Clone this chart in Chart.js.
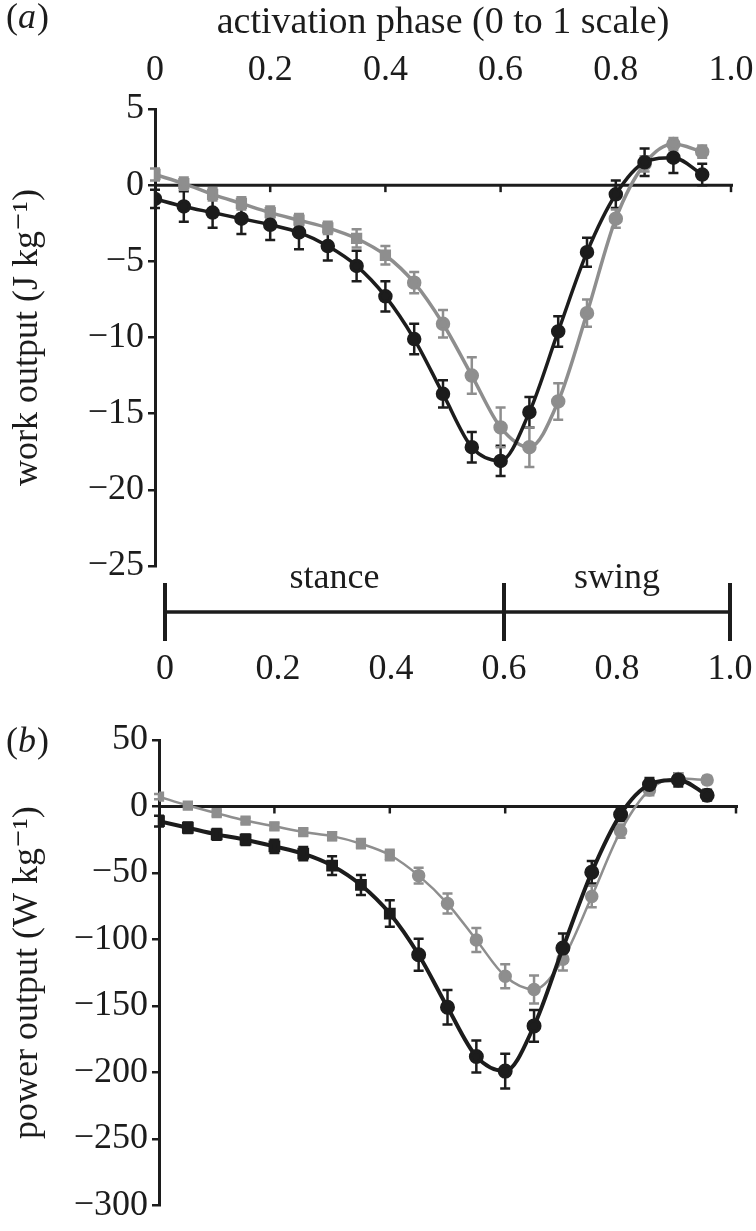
<!DOCTYPE html>
<html><head><meta charset="utf-8">
<script src="https://cdn.jsdelivr.net/npm/chart.js@4.4.1/dist/chart.umd.min.js"></script>
<style>
html,body{margin:0;padding:0;background:#fff;}
#wa{position:absolute;left:0;top:0;width:756px;height:700px;}
#wb{position:absolute;left:0;top:700px;width:756px;height:531px;}
</style>
</head><body>
<div id="wa"><canvas id="ca"></canvas></div>
<div id="wb"><canvas id="cb"></canvas></div>
<script>
// ---------- data ----------
const phase = [0,0.05,0.1,0.15,0.2,0.25,0.3,0.35,0.4,0.45,0.5,0.55,0.6,0.65,0.7,0.75,0.8,0.85,0.9,0.95];

const workBlack    = [-0.9,-1.4,-1.8,-2.2,-2.6,-3.1,-4.0,-5.3,-7.3,-10.1,-13.7,-17.2,-18.1,-14.9,-9.6,-4.4,-0.6,1.5,1.8,0.7];
const workBlackErr = [0.6,1.0,1.0,1.0,1.0,1.1,0.95,1.0,1.0,1.0,0.9,1.0,1.0,1.0,1.0,0.95,0.9,0.9,1.0,0.7];
const workGrey     = [0.7,0.1,-0.6,-1.2,-1.8,-2.3,-2.8,-3.5,-4.6,-6.4,-9.1,-12.5,-15.9,-17.2,-14.2,-8.4,-2.2,1.4,2.7,2.2];
const workGreyErr  = [0.4,0.4,0.4,0.4,0.4,0.4,0.4,0.6,0.6,0.7,0.9,1.2,1.3,1.3,1.2,0.9,0.6,0.5,0.4,0.4];

const powerBlack    = [-11,-16,-21,-25,-30,-35.5,-44.5,-59,-80.5,-111.5,-151,-188,-199,-165,-106.5,-49.5,-6,16.5,20,8.5];
const powerBlackErr = [4,4,4,4,5,5,7,7.5,10,12,13,12,13,12,11,8.5,5,5,5,4];
const powerGrey     = [7.4,0.7,-5,-10.6,-14.9,-19.2,-22.3,-28,-36.5,-52,-73,-100.4,-127.7,-137.6,-114.8,-67.7,-18.6,12.4,21,19.9];
const powerGreyErr  = [2,2,2,2,2.5,2.5,3,3.5,4,6,7.5,9,9,10.5,8.5,8,5,4,4,3];

const phaseTicks = [0,0.2,0.4,0.6,0.8,1.0];
const workTicks  = [5,0,-5,-10,-15,-20,-25];
const powerTicks = [50,0,-50,-100,-150,-200,-250,-300];
const phaseBounds = [0,0.6,1.0];
const phaseNames  = ['stance','swing'];

const xTitle  = 'activation phase (0 to 1 scale)';
const yTitleA = 'work output (J kg\u207B\u00B9)';
const yTitleB = 'power output (W kg\u207B\u00B9)';

// ---------- styling ----------
const FONT = "'Liberation Serif', 'DejaVu Serif', serif";
const FS = 36;
const INK = '#1c1c1c';
const GREY = '#8e8e8e';
const CLEAR = 'rgba(0,0,0,0)';
const fmtNum = v => v < 0 ? '\u2212' + Math.abs(v) : String(v);
const fmtPhase = v => v === 0 ? '0' : v.toFixed(1);

function pts(xs, ys){ return xs.map((x,i)=>({x:x, y:ys[i]})); }

function series(label, ys, errs, color, width, styles){
  return {
    label: label, data: pts(phase, ys), errors: errs,
    borderColor: color, backgroundColor: color, pointBackgroundColor: color, pointBorderColor: color,
    borderWidth: width, pointRadius: 5.5, pointHoverRadius: 5.5, pointStyle: styles,
    cubicInterpolationMode: 'monotone', fill: false
  };
}
const circ = phase.map(()=> 'circle');
const mixed = phase.map((p,i)=> i < 9 ? 'rect' : 'circle');

// zero line, tick marks on it, error bars
const decor = {
  id: 'decor',
  beforeDatasetsDraw(chart){
    const ctx = chart.ctx, x = chart.scales.x, y = chart.scales.y;
    const y0 = y.getPixelForValue(0);
    ctx.save();
    ctx.strokeStyle = INK; ctx.lineCap = 'butt';
    ctx.lineWidth = 3;
    ctx.beginPath(); ctx.moveTo(x.left, y0); ctx.lineTo(x.right + 2, y0); ctx.stroke();
    ctx.lineWidth = 2.5;
    phaseTicks.forEach(t => {
      if (t === 0) return;
      const px = x.getPixelForValue(t);
      ctx.beginPath(); ctx.moveTo(px, y0); ctx.lineTo(px, y0 + 7); ctx.stroke();
    });
    chart.data.datasets.forEach(ds => {
      ctx.strokeStyle = ds.borderColor; ctx.lineWidth = 2.5;
      ds.data.forEach((p, j) => {
        const e = ds.errors[j];
        const px = x.getPixelForValue(p.x);
        const t = y.getPixelForValue(p.y + e), b = y.getPixelForValue(p.y - e);
        ctx.beginPath();
        ctx.moveTo(px, t); ctx.lineTo(px, b);
        ctx.moveTo(px - 5, t); ctx.lineTo(px + 5, t);
        ctx.moveTo(px - 5, b); ctx.lineTo(px + 5, b);
        ctx.stroke();
      });
    });
    ctx.restore();
  }
};

function panelLabel(letter){
  return {
    id: 'panel' + letter,
    afterDraw(chart){
      const ctx = chart.ctx;
      ctx.save();
      ctx.fillStyle = INK; ctx.textBaseline = 'middle'; ctx.textAlign = 'left';
      let xx = 6; const yy = chart.options.plugins.panelPos.y;
      ctx.font = FS + "px " + FONT; ctx.fillText('(', xx, yy); xx += ctx.measureText('(').width;
      ctx.font = "italic " + FS + "px " + FONT; ctx.fillText(letter, xx, yy); xx += ctx.measureText(letter).width + 1;
      ctx.font = FS + "px " + FONT; ctx.fillText(')', xx, yy);
      ctx.restore();
    }
  };
}

// stance / swing bar drawn on the xb scale
const phaseBar = {
  id: 'phaseBar',
  afterDraw(chart){
    const xb = chart.scales.xb; if (!xb) return;
    const ctx = chart.ctx;
    const barY = xb.top + 46;
    ctx.save();
    ctx.strokeStyle = INK; ctx.lineWidth = 3.5;
    ctx.beginPath(); ctx.moveTo(xb.getPixelForValue(phaseBounds[0]), barY);
    ctx.lineTo(xb.getPixelForValue(phaseBounds[phaseBounds.length-1]), barY); ctx.stroke();
    ctx.lineWidth = 4;
    phaseBounds.forEach(b => {
      const px = xb.getPixelForValue(b);
      ctx.beginPath(); ctx.moveTo(px, barY - 29); ctx.lineTo(px, barY + 29); ctx.stroke();
    });
    ctx.fillStyle = INK; ctx.font = FS + "px " + FONT; ctx.textAlign = 'center'; ctx.textBaseline = 'alphabetic';
    phaseNames.forEach((n, i) => {
      const mid = (phaseBounds[i] + phaseBounds[i+1]) / 2;
      ctx.fillText(n, xb.getPixelForValue(mid), barY - 24);
    });
    ctx.restore();
  }
};

const tickFont = { family: FONT, size: FS };

function yAxis(min, max, ticks, title, width){
  return {
    type: 'linear', position: 'left', min: min, max: max,
    afterBuildTicks: s => { s.ticks = ticks.map(v => ({value: v})); },
    afterFit: s => { s.width = width; },
    grid: { drawOnChartArea: false, drawTicks: true, tickLength: 7, color: INK, lineWidth: 2.5 },
    border: { display: true, color: INK, width: 3 },
    ticks: { font: tickFont, color: INK, padding: 4, callback: fmtNum },
    title: { display: true, text: title, font: tickFont, color: INK, padding: { top: 6, bottom: 0 } }
  };
}

// ---------- panel (a) ----------
new Chart(document.getElementById('ca'), {
  type: 'line',
  data: { datasets: [
    series('black', workBlack, workBlackErr, INK, 3.5, circ),
    series('grey', workGrey, workGreyErr, GREY, 3.5, mixed)
  ]},
  options: {
    responsive: true, maintainAspectRatio: false, animation: false,
    layout: { padding: { left: 0, right: 25, top: 0, bottom: 0 } },
    plugins: { legend: { display: false }, tooltip: { enabled: false }, panelPos: { y: 19 } },
    scales: {
      x: {
        type: 'linear', position: 'top', min: 0, max: 1,
        afterBuildTicks: s => { s.ticks = phaseTicks.map(v => ({value: v})); },
        afterFit: s => { s.height = 109; },
        grid: { display: true, drawOnChartArea: false, drawTicks: true, tickLength: 15, color: CLEAR },
        border: { display: false },
        ticks: { font: tickFont, color: INK, padding: 2, callback: fmtPhase, maxRotation: 0 },
        title: { display: true, text: xTitle, font: { family: FONT, size: 38 }, color: INK, padding: { top: 0, bottom: 0 } }
      },
      xb: {
        type: 'linear', position: 'bottom', min: -0.0177, max: 1.0018,
        afterBuildTicks: s => { s.ticks = phaseTicks.map(v => ({value: v})); },
        afterFit: s => { s.height = 134; },
        grid: { display: true, drawOnChartArea: false, drawTicks: true, tickLength: 80, color: CLEAR },
        border: { display: false },
        ticks: { font: tickFont, color: INK, padding: 2, callback: fmtPhase, maxRotation: 0 }
      },
      y: yAxis(-25, 5, workTicks, yTitleA, 155)
    }
  },
  plugins: [decor, phaseBar, panelLabel('a')]
});

// ---------- panel (b) ----------
new Chart(document.getElementById('cb'), {
  type: 'line',
  data: { datasets: [
    series('black', powerBlack, powerBlackErr, INK, 4, mixed),
    series('grey', powerGrey, powerGreyErr, GREY, 2.5, mixed)
  ]},
  options: {
    responsive: true, maintainAspectRatio: false, animation: false,
    layout: { padding: { left: 0, right: 20, top: 40, bottom: 23 } },
    plugins: { legend: { display: false }, tooltip: { enabled: false }, panelPos: { y: 43 } },
    scales: {
      x: { type: 'linear', min: 0, max: 1, display: false },
      y: yAxis(-300, 50, powerTicks, yTitleB, 159)
    }
  },
  plugins: [decor, panelLabel('b')]
});
</script>
</body></html>
